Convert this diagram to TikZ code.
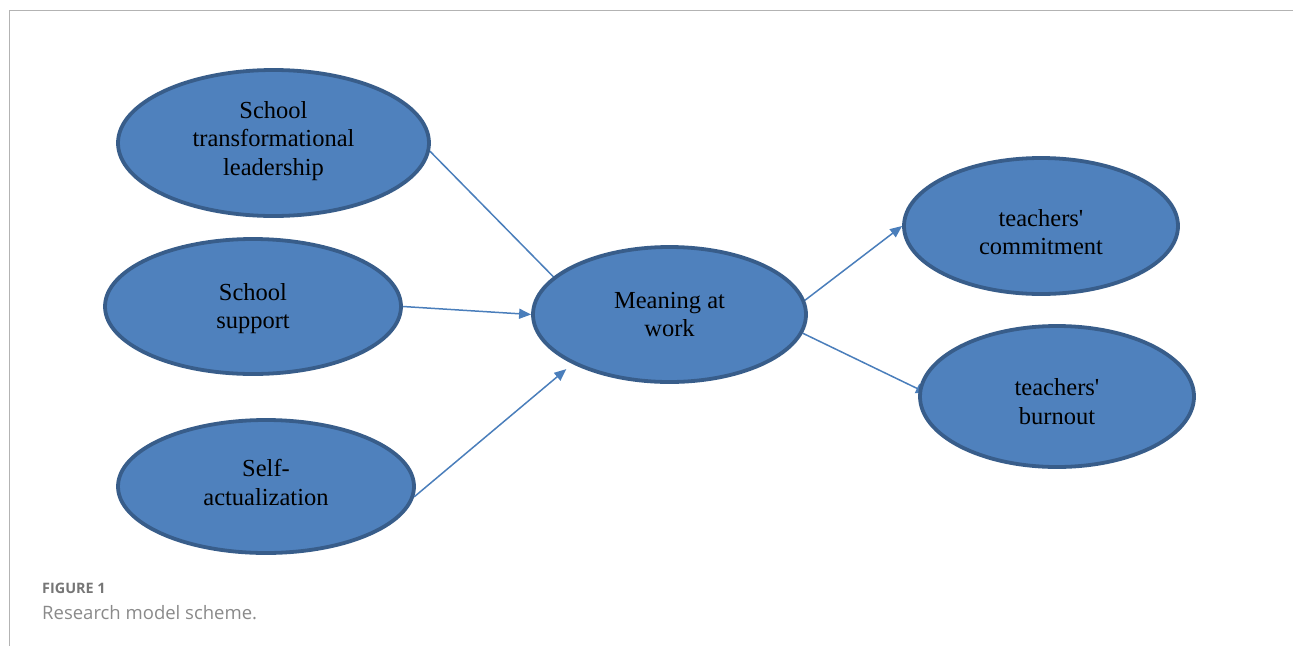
\documentclass[tikz,border=0pt]{standalone}
\usepackage{fontspec}
\setmainfont{Liberation Serif}
\newfontfamily\capfont{Open Sans}
\usetikzlibrary{shapes.geometric,arrows.meta,backgrounds}
\definecolor{efill}{HTML}{4F81BD}
\definecolor{edraw}{HTML}{385D8A}
\definecolor{arr}{HTML}{4A7EBB}
\definecolor{frame}{HTML}{B3B3B3}
\definecolor{capgray}{HTML}{767676}
\tikzset{
  latent/.style={ellipse, fill=efill, draw=edraw, line width=3.8pt, inner sep=0pt},
  lbl/.style={align=center, inner sep=0pt, font=\fontsize{24.5}{28.5}\selectfont},
  conn/.style={draw=arr, line width=1.5pt, -{Triangle[length=12pt,width=10pt]}},
  captxt/.style={anchor=base west, inner sep=0pt, text=capgray},
}
\begin{document}
\begin{tikzpicture}[x=1pt,y=-1pt]
\useasboundingbox (0,0) rectangle (1293,646);
\draw[frame, line width=1.5pt] (9.5,646) -- (9.5,10.5) -- (1293,10.5);
\node[latent, minimum width=311pt, minimum height=146pt] (a) at (273.5,143) {};
\node[latent, minimum width=296pt, minimum height=135pt] (s) at (253,306.5) {};
\node[latent, minimum width=296pt, minimum height=133pt] (c) at (266,486.5) {};
\node[latent, minimum width=273pt, minimum height=135pt] (m) at (669.5,314.5) {};
\node[latent, minimum width=274pt, minimum height=136pt] (t) at (1041,226) {};
\node[latent, minimum width=274pt, minimum height=141pt] (b) at (1057,396.5) {};
\node[lbl] (al) at ([yshift=2pt]a.center) {School\\transformational\\leadership};
\node[lbl] (sl) at ([yshift=-2pt]s.center) {School\\support};
\node[lbl] (cl) at ([yshift=4pt]c.center) {Self-\\actualization};
\node[lbl] (ml) at ([yshift=0pt]m.center) {Meaning at\\work};
\node[lbl] (tl) at ([yshift=-6pt]t.center) {teachers\textquotesingle\\commitment};
\node[lbl] (bl) at ([yshift=-5pt]b.center) {teachers\textquotesingle\\burnout};
\begin{scope}[on background layer]
\draw[conn, shorten >=-14pt] (a.-3) -- (m.162);
\draw[conn] (s.east) -- (m.180);
\draw[conn, shorten >=8pt] (c.-4) -- (m.207);
\draw[conn] (m.6) -- (t.west);
\draw[conn, shorten >=-10pt] (m.-8) -- (b.177);
\end{scope}
\node[captxt, font=\capfont\fontsize{14.4}{17}\selectfont\bfseries] (f1) at (42,593) {FIGURE 1};
\node[captxt, font=\capfont\fontsize{18.5}{22}\selectfont, text=capgray!85] (f2) at (42,619) {Research model scheme.};
\end{tikzpicture}
\end{document}
